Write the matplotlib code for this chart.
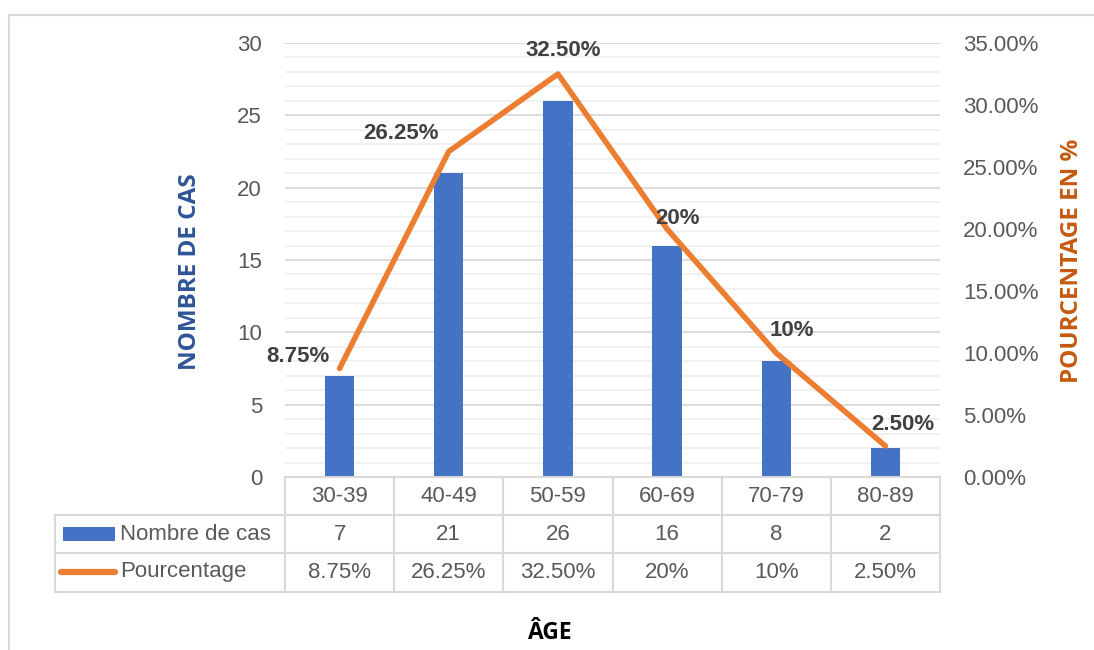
import matplotlib
matplotlib.use("Agg")
import matplotlib.pyplot as plt
from matplotlib.patches import Rectangle
from matplotlib.lines import Line2D
from matplotlib.ticker import MultipleLocator, FuncFormatter

categories = ["30-39", "40-49", "50-59", "60-69", "70-79", "80-89"]
counts = [7, 21, 26, 16, 8, 2]
percents = [0.0875, 0.2625, 0.325, 0.20, 0.10, 0.025]
percent_labels = ["8.75%", "26.25%", "32.50%", "20%", "10%", "2.50%"]
series_names = ["Nombre de cas", "Pourcentage"]
left_title = "NOMBRE DE CAS"
right_title = "POURCENTAGE EN %"
x_title = "ÂGE"

BLUE = "#4472C4"
ORANGE = "#ED7D31"
GRAY = "#595959"
GRID = "#D9D9D9"
MINOR = "#EFEFEF"
FS = 16

W, H = 1094, 650
fig = plt.figure(figsize=(W / 100, H / 100), dpi=100)
plt.rcParams['font.family'] = ['Liberation Sans', 'DejaVu Sans']

def px(x0, y0, x1, y1):
    return [x0 / W, 1 - y1 / H, (x1 - x0) / W, (y1 - y0) / H]

ax = fig.add_axes(px(285, 43, 940, 477))
ax2 = ax.twinx()

n = len(categories)
xs = list(range(n))
ax.bar(xs, counts, width=0.27, color=BLUE, zorder=3)
ax.set_xlim(-0.5, n - 0.5)
ax.set_ylim(0, 30)
ax.yaxis.set_major_locator(MultipleLocator(5))
ax.yaxis.set_minor_locator(MultipleLocator(1))
ax.grid(axis='y', which='major', color=GRID, lw=1.3, zorder=0)
ax.grid(axis='y', which='minor', color=MINOR, lw=1.2, zorder=0)
ax.set_axisbelow(True)
ax.set_xticks([])
for s in ax.spines.values():
    s.set_visible(False)
for s in ax2.spines.values():
    s.set_visible(False)
ax.tick_params(axis='y', which='both', length=0, labelsize=FS, labelcolor=GRAY, pad=16.5)

ax2.plot(xs, percents, color=ORANGE, lw=4, solid_capstyle='round', solid_joinstyle='round', zorder=4)
ax2.set_ylim(0, 0.35)
ax2.yaxis.set_major_locator(MultipleLocator(0.05))
ax2.yaxis.set_major_formatter(FuncFormatter(lambda v, p: f"{v*100:.2f}%"))
ax2.tick_params(axis='y', length=0, labelsize=FS, labelcolor=GRAY, pad=16.5)

offsets = [(-42, 12), (-48, 18), (5, 23), (10, 11), (16, 22), (17, 22)]
for x, p, lab, (dx, dy) in zip(xs, percents, percent_labels, offsets):
    ax2.annotate(lab, (x, p), xytext=(dx, dy), textcoords='offset pixels',
                 ha='center', va='center', fontsize=FS, fontweight='bold',
                 color='#404040', zorder=5)

# axis titles
fig.text(190 / W, 1 - 272 / H, left_title, rotation=90, ha='center', va='center',
         fontsize=17.5, fontweight='bold', color='#2F5597', family=['Open Sans', 'DejaVu Sans'])
fig.text(1072 / W, 1 - 261 / H, right_title, rotation=90, ha='center', va='center',
         fontsize=17.5, fontweight='bold', color='#C55A11', family=['Open Sans', 'DejaVu Sans'])
fig.text(549 / W, 1 - 633 / H, x_title, ha='center', va='center',
         fontsize=16.5, fontweight='bold', color='black', family=['Open Sans', 'DejaVu Sans'])

def fx(x):
    return x / W
def fy(y):
    return 1 - y / H

tcol = GRID
lw = 1.5
col_edges = [285 + i * (655 / n) for i in range(n + 1)]
row_y = [477, 515, 553, 592]
for xe in col_edges:
    fig.add_artist(Line2D([fx(xe), fx(xe)], [fy(row_y[0]), fy(row_y[3])], color=tcol, lw=lw))
fig.add_artist(Line2D([fx(55), fx(55)], [fy(row_y[1]), fy(row_y[3])], color=tcol, lw=lw))
fig.add_artist(Line2D([fx(285), fx(940)], [fy(row_y[0]), fy(row_y[0])], color=tcol, lw=lw))
for yy in row_y[1:]:
    fig.add_artist(Line2D([fx(55), fx(940)], [fy(yy), fy(yy)], color=tcol, lw=lw))

centers = [(col_edges[i] + col_edges[i + 1]) / 2 for i in range(n)]
for c, cat, cnt, pl in zip(centers, categories, counts, percent_labels):
    fig.text(fx(c), fy(496), cat, ha='center', va='center', fontsize=FS, color=GRAY)
    fig.text(fx(c), fy(534), str(cnt), ha='center', va='center', fontsize=FS, color=GRAY)
    fig.text(fx(c), fy(572), pl, ha='center', va='center', fontsize=FS, color=GRAY)

fig.add_artist(Rectangle((fx(63), fy(541)), fx(115) - fx(63), fy(527) - fy(541),
                         facecolor=BLUE, edgecolor='none'))
fig.add_artist(Line2D([fx(61), fx(115)], [fy(572), fy(572)], color=ORANGE, lw=4.5,
                      solid_capstyle='round'))
fig.text(fx(120), fy(534), series_names[0], ha='left', va='center', fontsize=FS, color=GRAY)
fig.text(fx(120), fy(572), series_names[1], ha='left', va='center', fontsize=FS, color=GRAY)

fig.add_artist(Line2D([fx(9), fx(1094)], [fy(15), fy(15)], color=GRID, lw=1.5))
fig.add_artist(Line2D([fx(9), fx(9)], [fy(15), fy(650)], color=GRID, lw=1.5))

fig.savefig("out.png", dpi=100)
